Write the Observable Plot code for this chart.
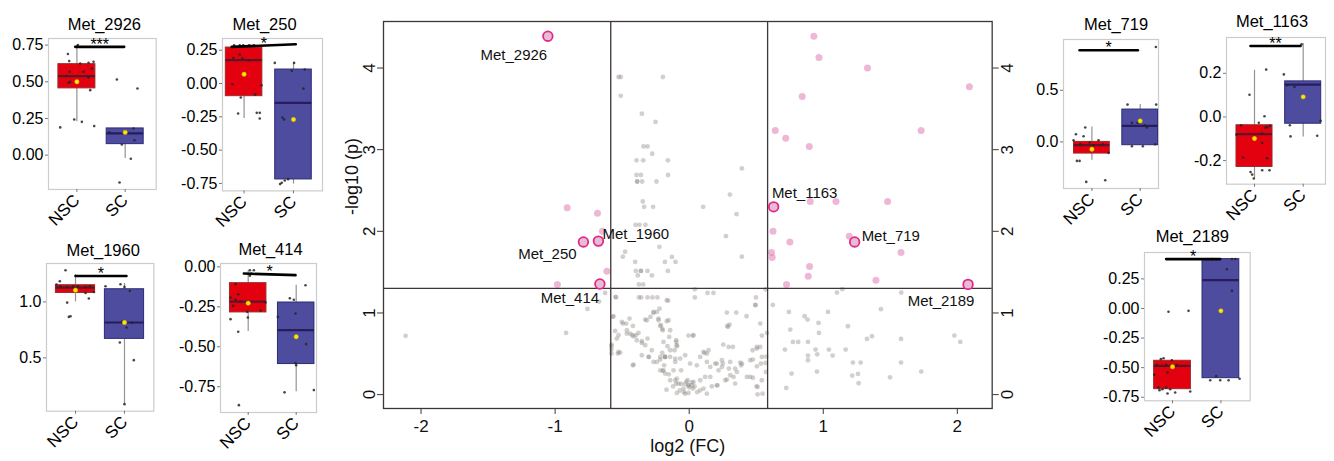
<!DOCTYPE html>
<html><head><meta charset="utf-8">
<script src="https://cdn.jsdelivr.net/npm/d3@7"></script>
<script src="https://cdn.jsdelivr.net/npm/@observablehq/plot@0.6"></script>
<style>
body{margin:0;background:#fff;font-family:"Liberation Sans",Arial,sans-serif;}
#wrap{position:relative;width:1334px;height:461px;overflow:hidden;background:#fff;}
#wrap > svg{position:absolute;}
</style></head><body><div id="wrap"></div>
<script>
// ---------------- DATA ----------------
const groups = ["NSC", "SC"];
const panelNames = ["Met_2926", "Met_250", "Met_1960", "Met_414", "Met_719", "Met_1163", "Met_2189"];
const panelTicks = [
  [0, 0.25, 0.5, 0.75],
  [-0.75, -0.5, -0.25, 0, 0.25],
  [0.5, 1.0],
  [-0.75, -0.5, -0.25, 0],
  [0, 0.5],
  [-0.2, 0, 0.2],
  [-0.75, -0.5, -0.25, 0, 0.25]
];
const nscQ1   = [0.455, -0.095, 1.080, -0.285, -0.113, -0.229, -0.682];
const nscMed  = [0.539,  0.175, 1.128, -0.217, -0.032, -0.079, -0.485];
const nscQ3   = [0.620,  0.270, 1.149, -0.102,  0.000, -0.038, -0.442];
const nscLo   = [0.227, -0.263, 1.000, -0.404, -0.177, -0.282, -0.682];
const nscHi   = [0.750,  0.287, 1.245, -0.025,  0.145,  0.214, -0.442];
const nscMean = [0.500,  0.070, 1.105, -0.227, -0.071, -0.099, -0.493];
const scQ1    = [0.075, -0.720, 0.670, -0.608, -0.032, -0.031, -0.589];
const scMed   = [0.148, -0.145, 0.816, -0.396,  0.155,  0.148,  0.239];
const scQ3    = [0.182,  0.105, 1.113, -0.223,  0.313,  0.163,  0.417];
const scLo    = [-0.023, -0.755, 0.087, -0.781, -0.032, -0.092, -0.589];
const scHi    = [0.182,  0.155, 1.165, -0.115,  0.361,  0.336,  0.417];
const scMean  = [0.155, -0.270, 0.816, -0.437,  0.203,  0.092, -0.020];
const sigStars = ["***", "*", "*", "*", "*", "**", "*"];
const sigX1 = [0.966, 0.75, 1.0, 0.91, 0.745, 0.918, 0.869];
const sigX2 = [1.979, 2.046, 2.04, 1.986, 1.952, 1.945, 1.986];
const sigY1 = [0.738, 0.275, 1.232, -0.042, 0.887, 0.325, 0.417];
const sigY2 = [0.738, 0.295, 1.232, -0.052, 0.887, 0.325, 0.417];

const pts2926 = [["NSC",0.814,0.689],["NSC",0.841,0.641],["NSC",1.241,0.630],["NSC",1.345,0.636],["NSC",0.848,0.568],["NSC",1.069,0.625],["NSC",1.138,0.568],["NSC",1.310,0.590],["NSC",0.779,0.539],["NSC",0.862,0.500],["NSC",0.828,0.493],["NSC",1.241,0.530],["NSC",1.276,0.443],["NSC",1.021,0.750],["NSC",0.945,0.243],["NSC",1.103,0.227],["NSC",1.359,0.198],["NSC",0.655,0.189],
  ["SC",1.828,0.516],["SC",2.255,0.454],["SC",1.669,0.155],["SC",2.172,0.182],["SC",2.193,0.102],["SC",1.931,0.073],["SC",2.117,-0.025],["SC",1.883,-0.186]];
const pts250 = [["NSC",0.798,0.287],["NSC",0.912,0.287],["NSC",0.980,0.287],["NSC",1.101,0.287],["NSC",1.202,0.287],["NSC",0.912,0.217],["NSC",0.784,0.192],["NSC",0.966,0.187],["NSC",1.101,0.175],["NSC",0.764,-0.005],["NSC",1.351,-0.013],["NSC",1.223,-0.083],["NSC",0.933,-0.105],["NSC",0.879,-0.225],["NSC",1.256,-0.220],["NSC",1.317,-0.220],["NSC",1.317,-0.263],
  ["SC",1.621,0.155],["SC",2.012,0.155],["SC",1.965,0.095],["SC",2.228,0.105],["SC",2.201,-0.038],["SC",1.776,-0.255],["SC",1.810,-0.270],["SC",1.729,-0.755],["SC",1.762,-0.745],["SC",1.823,-0.728],["SC",1.891,-0.718]];
const pts1960 = [["NSC",0.796,1.283],["NSC",0.680,1.185],["NSC",0.612,1.155],["NSC",0.694,1.140],["NSC",0.830,1.134],["NSC",0.952,1.140],["NSC",1.048,1.140],["NSC",1.204,1.134],["NSC",1.293,1.140],["NSC",1.374,1.089],["NSC",1.204,1.080],["NSC",1.272,1.030],["NSC",0.830,0.994],["NSC",0.898,0.872],["NSC",0.864,0.866],
  ["SC",1.612,1.140],["SC",1.918,1.158],["SC",2.000,1.134],["SC",2.109,1.098],["SC",1.952,0.822],["SC",2.041,0.771],["SC",2.156,0.813],["SC",1.905,0.637],["SC",2.190,0.480],["SC",2.000,0.087]];
const pts414 = [["NSC",1.035,-0.021],["NSC",1.118,-0.021],["NSC",1.063,-0.042],["NSC",1.035,-0.056],["NSC",0.736,-0.108],["NSC",0.792,-0.171],["NSC",0.632,-0.192],["NSC",0.736,-0.206],["NSC",0.840,-0.217],["NSC",0.688,-0.244],["NSC",1.014,-0.233],["NSC",1.257,-0.275],["NSC",1.361,-0.223],["NSC",0.979,-0.281],["NSC",0.993,-0.317],["NSC",0.632,-0.327],["NSC",0.792,-0.406],["NSC",0.806,-0.865],
  ["SC",2.194,-0.115],["SC",1.868,-0.196],["SC",1.951,-0.206],["SC",1.618,-0.313],["SC",1.986,-0.292],["SC",2.208,-0.483],["SC",1.986,-0.602],["SC",2.000,-0.615],["SC",1.757,-0.785],["SC",2.368,-0.771]];
const pts719 = [["NSC",0.669,0.074],["NSC",0.862,0.139],["NSC",0.828,0.055],["NSC",0.759,-0.023],["NSC",0.952,-0.006],["NSC",1.138,0.016],["NSC",1.034,-0.032],["NSC",1.228,-0.023],["NSC",1.345,-0.106],["NSC",0.745,-0.184],["NSC",0.690,-0.184],["NSC",0.883,-0.387],["NSC",1.276,-0.371],["NSC",0.621,0.016],
  ["SC",1.738,0.361],["SC",2.331,0.361],["SC",1.828,0.184],["SC",1.945,0.184],["SC",2.103,0.161],["SC",2.138,0.139],["SC",1.828,-0.042],["SC",2.055,-0.042],["SC",2.310,-0.023],["SC",2.324,0.919]];
const pts1163 = [["NSC",0.897,0.102],["NSC",1.240,0.217],["NSC",1.205,0.003],["NSC",1.089,-0.027],["NSC",1.260,-0.046],["NSC",1.315,-0.041],["NSC",1.226,-0.049],["NSC",0.726,-0.038],["NSC",1.158,-0.076],["NSC",0.630,-0.081],["NSC",1.158,-0.119],["NSC",0.767,-0.186],["NSC",1.260,-0.189],["NSC",0.918,-0.252],["NSC",0.952,-0.264],["NSC",1.158,-0.244],["NSC",1.308,-0.244],["NSC",0.986,-0.282],
  ["SC",1.603,0.195],["SC",1.671,0.145],["SC",1.822,0.137],["SC",1.966,0.333],["SC",1.726,-0.038],["SC",1.740,-0.089],["SC",2.288,-0.086],["SC",2.356,-0.018]];
const pts2189 = [["NSC",0.621,-0.561],["NSC",0.676,-0.479],["NSC",0.759,-0.428],["NSC",0.814,-0.420],["NSC",0.869,-0.476],["NSC",0.986,-0.437],["NSC",1.090,-0.479],["NSC",0.897,-0.541],["NSC",0.710,-0.668],["NSC",0.793,-0.682],["NSC",0.869,-0.668],["NSC",0.952,-0.682],["NSC",0.897,-0.718],["NSC",1.055,-0.710],["NSC",1.366,-0.701],["NSC",0.731,-0.690],["NSC",0.917,-0.028],["NSC",1.331,-0.020],
  ["SC",1.814,0.417],["SC",2.228,0.417],["SC",2.297,0.417],["SC",2.124,0.332],["SC",2.228,0.149],["SC",1.903,-0.572],["SC",1.779,-0.606],["SC",1.986,-0.606],["SC",2.159,-0.606],["SC",2.386,-0.594]];
const panelPoints = [pts2926, pts250, pts1960, pts414, pts719, pts1163, pts2189];

// volcano
const fcCut = 0.585, pCut = 1.30;
const volXTicks = [-2, -1, 0, 1, 2];
const volYTicks = [0, 1, 2, 3, 4];
const greyPts = [
 [-0.527,3.89],[-0.51,3.89],[-0.196,3.89],[-0.51,3.66],[-0.353,3.44],[-0.251,3.34],[-0.341,3.04],[-0.311,3.04],[-0.276,2.95],[-0.393,2.87],[-0.343,2.87],[-0.159,2.87],[-0.393,2.69],[-0.36,2.69],[-0.157,2.69],[-0.388,2.61],[-0.388,2.61],[-0.351,2.61],[-0.244,2.61],[0.393,2.77],[0.304,2.45],[-0.346,2.365],[-0.336,2.30],[-0.269,2.30],[0.104,2.30],[0.353,2.21],[-0.4,2.08],[-0.37,2.08],[-0.326,2.08],[0.274,1.94],[0.393,1.69],[-0.478,1.75],[-0.495,1.69],[-0.222,1.81],[-0.181,1.625],[-0.102,1.625],[-0.403,1.625],[-0.398,1.515],[-0.36,1.515],[-0.36,1.515],[-0.311,1.515],[-0.278,1.46],[-0.159,1.515],[-0.383,1.46],[-0.375,1.35],[-0.343,1.35],[0.042,1.29],[0.137,1.245],[0.181,1.245],[0.042,1.19],[0.498,1.19],[0.57,1.29],
 [-0.545,1.19],[-0.375,1.19],[-0.358,1.19],[-0.311,1.19],[-0.274,1.19],[-0.237,1.19],[-0.157,1.15],
 [-0.570,0.952],[-0.495,0.870],[-0.445,0.931],[-0.420,0.841],[-0.527,0.727],[-0.552,0.780],[-0.465,0.748],[-0.425,0.727],[-0.398,0.727],[-0.353,0.654],[-0.311,0.686],[-0.266,1.013],[-0.221,1.054],[-0.289,0.952],[-0.316,0.911],[-0.216,0.841],[-0.201,0.805],[-0.229,0.931],[-0.167,0.899],[-0.142,0.788],[-0.149,0.707],[-0.192,0.645],[-0.162,0.592],[-0.142,0.543],[-0.097,0.645],[-0.092,0.592],[-0.109,0.543],[-0.005,0.723],[0.027,0.723],[0.114,0.511],[0.144,0.543],[0.254,0.613],[0.294,0.584],[0.326,0.584],[0.284,0.841],[0.281,1.005],[0.351,1.005],[0.428,0.960],[0.495,1.095],[0.530,0.870],[0.542,0.723],[0.505,0.584],[0.473,0.543],[0.575,0.466],[0.535,0.380],[0.505,0.347],[0.542,0.176],[0.502,0.102],[0.547,0.012],[-0.515,0.515],[-0.415,0.368],[-0.301,0.462],[-0.241,0.400],[-0.216,0.462],[-0.201,0.511],[-0.182,0.462],[-0.142,0.462],[-0.104,0.400],[-0.067,0.441],[-0.030,0.482],[0.007,0.380],[0.057,0.359],[0.132,0.400],[0.132,0.502],[0.157,0.339],[0.206,0.380],[0.251,0.380],[0.296,0.319],[0.343,0.319],[0.393,0.380],[0.455,0.421],[-0.197,0.290],[-0.152,0.249],[-0.092,0.196],[-0.060,0.298],[-0.012,0.176],[0.020,0.151],[-0.097,0.135],[-0.042,0.074],[-0.005,0.114],[0.027,0.074],[-0.005,0.020],[-0.092,0.020],[0.082,0.176],[0.107,0.074],[0.157,0.217],[0.206,0.114],[0.269,0.176],[0.306,0.237],[0.356,0.278],[0.430,0.217],[-0.216,0.298],[-0.142,0.176],[-0.169,0.061],[0.132,0.012],[-0.58,0.592],[-0.58,0.502],[-0.532,0.502],
 [-0.06,0.13],[-0.03,0.13],[0.0,0.09],[-0.07,0.05],[0.04,0.1],[-0.12,0.1],[0.06,0.03],[-0.04,0.03],[-0.02,0.16],
 [-0.550,1.197],[-0.565,0.960],[-0.502,0.891],[-0.465,0.788],[-0.540,0.686],[-0.58,0.613],[-0.58,0.551],[-0.527,0.523],[-0.440,0.748],[-0.470,0.870],[-0.415,0.715],[-0.391,0.666],[-0.378,0.756],[-0.353,0.633],[-0.328,0.919],[-0.266,1.001],[-0.241,1.013],[-0.229,0.911],[-0.211,0.850],[-0.197,0.788],[-0.328,0.605],[-0.279,0.543],[-0.353,0.482],[-0.216,0.429],[-0.179,0.462],[-0.266,0.400],[-0.420,0.359],[-0.303,0.462],[-0.192,0.298],[-0.179,0.257],
 [-0.759,1.05],[-0.672,1.14],[-0.627,1.245],[-0.918,0.755],[-2.115,0.72],
 [0.624,1.099],[0.744,1.013],[0.861,0.960],[0.883,0.919],[0.965,0.878],[1.035,1.013],[0.754,0.797],[0.774,0.645],[0.813,0.645],[0.886,0.645],[0.968,0.756],[1.184,0.837],[0.714,0.551],[0.943,0.551],[0.955,0.494],[0.886,0.478],[0.886,0.421],[1.042,0.551],[1.070,0.478],[1.167,0.551],[1.221,0.392],[1.279,0.392],[1.326,0.682],[1.363,0.715],[1.430,1.046],[1.582,1.250],[1.142,1.291],[1.102,1.250],[1.580,0.682],[1.580,0.392],[1.731,0.282],[1.978,0.723],[2.022,0.645],[0.764,0.257],[0.953,0.282],[1.216,0.233],[1.259,0.253],[1.264,0.139],[1.498,0.212],[0.724,0.082],
 [0.493,1.099],[0.580,0.756],[0.530,0.584],[0.505,0.564],[0.542,0.462],[0.475,0.208],[0.510,0.004],[0.570,0.388],[0.572,0.278],[0.301,0.858],[0.289,0.829],[0.381,0.392],[0.388,0.359],[0.107,0.523],[0.082,0.462],[0.194,0.380],[0.244,0.339],[0.306,0.400],[0.244,0.421],[0.219,0.298],[0.119,0.217],[0.169,0.102],[0.211,0.114],[0.281,0.184],[0.331,0.217],[0.343,0.135],[0.455,0.217],[0.475,0.429],[0.510,0.094],
 [-0.129,1.687],[-0.167,1.156],[-0.154,0.911],[-0.097,0.666],[-0.092,0.605],[-0.179,0.462],[-0.104,0.441],[-0.187,0.359],[-0.117,0.298],[-0.104,0.176],[-0.080,0.135],[-0.030,0.012],[-0.005,0.114],[0.020,0.114],[0.032,0.155],[0.082,0.053],[0.032,0.727]
];
const sigPts = [
 [-0.91,2.29],[-0.684,2.22],[-0.647,2.0],[-0.614,1.51],[-0.983,1.35],
 [0.93,4.39],[0.968,4.13],[1.33,4.0],[2.09,3.77],[0.843,3.65],[0.642,3.235],[0.72,3.14],[0.896,3.04],[1.73,3.235],[0.903,2.365],[1.095,2.365],[1.48,2.365],[0.625,2.0],[0.751,1.87],[1.194,1.94],[1.58,1.74],[0.614,1.74],[0.619,1.68],[0.898,1.57],[0.888,1.45],[1.393,1.40],[0.726,1.35]
];
const labNames = ["Met_2926", "Met_250", "Met_1960", "Met_414", "Met_1163", "Met_719", "Met_2189"];
const labFC = [-1.054, -0.789, -0.677, -0.666, 0.63, 1.234, 2.08];
const labP  = [4.39, 1.87, 1.88, 1.355, 2.30, 1.87, 1.35];

// ---------------- DRAW ----------------
const FONT = '"Liberation Sans", Arial, sans-serif';
const wrap = document.getElementById("wrap");

// Volcano
const V = {fl: 383, fr: 991.7, ft: 21, fb: 408};
const vmL = 60, vmR = 45, vmT = 21, vmB = 53;
const labelOffsets = {
  Met_2926: [-34, 19, "middle"], Met_250: [-36, 12, "middle"], Met_1960: [4, -7, "start"],
  Met_414: [-30, 14, "middle"], Met_1163: [31, -14, "middle"], Met_719: [7, -6, "start"],
  Met_2189: [-27, 17, "middle"]
};
const labData = labNames.map((n, k) => ({n, fc: labFC[k], p: labP[k]}));
const lineCol = "#3e3636";
const vol = Plot.plot({
  width: V.fr - V.fl + vmL + vmR,
  height: V.fb - V.ft + vmT + vmB,
  marginLeft: vmL, marginRight: vmR, marginTop: vmT, marginBottom: vmB,
  style: {fontFamily: FONT, fontSize: "17px", color: "#111", background: "transparent", overflow: "visible"},
  x: {domain: [-2.28, 2.26]},
  y: {domain: [-0.17, 4.57]},
  marks: [
    Plot.dot(greyPts, {x: d => d[0], y: d => d[1], r: 2.4, fill: "#8f8a85", fillOpacity: 0.4}),
    Plot.dot(sigPts, {x: d => d[0], y: d => d[1], r: 3.5, fill: "#e07bb4", fillOpacity: 0.55}),
    Plot.ruleX([-fcCut, fcCut], {stroke: lineCol, strokeWidth: 1.3}),
    Plot.ruleY([pCut], {stroke: lineCol, strokeWidth: 1.3}),
    Plot.dot(labData, {x: "fc", y: "p", r: 4.8, fill: "#e6bdd2", stroke: "#e3288a", strokeWidth: 1.8}),
    ...labData.map(d => {
      const [dx, dy, ta] = labelOffsets[d.n];
      return Plot.text([d], {x: "fc", y: "p", text: "n", dx, dy, textAnchor: ta, fontSize: 15, fill: "#111"});
    }),
    Plot.frame({stroke: lineCol, strokeWidth: 1.3}),
    Plot.axisX({ticks: volXTicks, tickFormat: d => String(d), tickSize: 6, tickPadding: 5, fontSize: 17, stroke: lineCol, fill: "#111", label: null}),
    Plot.axisY({anchor: "left", ticks: volYTicks, tickFormat: d => String(d), tickRotate: -90, tickSize: 6, fontSize: 17, stroke: lineCol, fill: "#111", label: null}),
    Plot.axisY({anchor: "right", ticks: volYTicks, tickFormat: d => String(d), tickRotate: -90, lineAnchor: "top", tickSize: 6, fontSize: 17, stroke: lineCol, fill: "#111", label: null}),
    Plot.text(["log2 (FC)"], {text: d => d, frameAnchor: "bottom", lineAnchor: "middle", dy: 38, fontSize: 18, fill: "#111"}),
    Plot.text(["-log10 (p)"], {text: d => d, frameAnchor: "left", lineAnchor: "middle", dx: -31, rotate: -90, fontSize: 18, fill: "#111"})
  ]
});
vol.style.left = (V.fl - vmL) + "px";
vol.style.top = (V.ft - vmT) + "px";
wrap.appendChild(vol);

// Box panels
const layout = [
  {fl: 48.3, fr: 156, ft: 38.3, fb: 189.3, xd: [0.412, 2.642], yd: [-0.234, 0.795], hw: 0.383, tdx: 2, tdy: -13.3, dec: 2},
  {fl: 221.7, fr: 321.7, ft: 38.3, fb: 190.7, xd: [0.563, 2.587], yd: [-0.806, 0.338], hw: 0.37, tdx: -8, tdy: -13.8, dec: 2},
  {fl: 46, fr: 153.3, ft: 263.3, fb: 411, xd: [0.408, 2.598], yd: [0.024, 1.343], hw: 0.40, tdx: 3, tdy: -12.6, dec: 1},
  {fl: 220, fr: 316, ft: 262.7, fb: 411.7, xd: [0.423, 2.423], yd: [-0.911, 0.021], hw: 0.38, tdx: 2, tdy: -13.5, dec: 2},
  {fl: 1063.3, fr: 1158.3, ft: 39.3, fb: 188.3, xd: [0.412, 2.379], yd: [-0.451, 0.991], hw: 0.37, tdx: 5, tdy: -15, dec: 1},
  {fl: 1226, fr: 1325, ft: 37.3, fb: 184, xd: [0.425, 2.458], yd: [-0.308, 0.364], hw: 0.37, tdx: -4, tdy: -15.5, dec: 1},
  {fl: 1144.3, fr: 1250, ft: 251.7, fb: 400, xd: [0.421, 2.605], yd: [-0.78, 0.473], hw: 0.38, tdx: -5, tdy: -16, dec: 2}
];
const fillCol = {NSC: "#e3000f", SC: "#4d4c9f"};
const strokeCol = {NSC: "#9c2a2a", SC: "#2c2b78"};
const medCol = {NSC: "#5c1628", SC: "#271c5c"};

function boxPanel(i) {
  const L = layout[i];
  const mL = 52, mR = 10, mT = 42, mB = 50;
  const stats = groups.map((g, k) => ({
    g, x: k + 1,
    q1: k ? scQ1[i] : nscQ1[i], med: k ? scMed[i] : nscMed[i], q3: k ? scQ3[i] : nscQ3[i],
    lo: k ? scLo[i] : nscLo[i], hi: k ? scHi[i] : nscHi[i], mean: k ? scMean[i] : nscMean[i]
  }));
  const hw = L.hw;
  const sig = [{x: sigX1[i], y: sigY1[i]}, {x: sigX2[i], y: sigY2[i]}];
  const chart = Plot.plot({
    width: L.fr - L.fl + mL + mR,
    height: L.fb - L.ft + mT + mB,
    marginLeft: mL, marginRight: mR, marginTop: mT, marginBottom: mB,
    style: {fontFamily: FONT, fontSize: "16px", color: "#000", background: "transparent", overflow: "visible"},
    x: {domain: L.xd},
    y: {domain: L.yd},
    marks: [
      Plot.frame({stroke: "#cccccc", strokeWidth: 1.2}),
      Plot.ruleX(stats, {x: "x", y1: "lo", y2: "hi", stroke: "#9a9090", strokeWidth: 1.2}),
      Plot.rect(stats, {x1: d => d.x - hw, x2: d => d.x + hw, y1: "q1", y2: "q3",
        fill: d => fillCol[d.g], stroke: d => strokeCol[d.g], strokeWidth: 1}),
      Plot.ruleY(stats, {x1: d => d.x - hw, x2: d => d.x + hw, y: "med", stroke: d => medCol[d.g], strokeWidth: 2.2}),
      Plot.dot(panelPoints[i], {x: d => d[1], y: d => d[2], r: 1.3, fill: "#262626", fillOpacity: 0.85}),
      Plot.dot(stats, {x: "x", y: "mean", r: 2.2, fill: "#ffe600", stroke: "#c9b400", strokeWidth: 0.5}),
      Plot.line(sig, {x: "x", y: "y", stroke: "#000", strokeWidth: 2.6}),
      Plot.text([sigStars[i]], {text: d => d, x: () => (sigX1[i] + sigX2[i]) / 2, y: () => (sigY1[i] + sigY2[i]) / 2,
        lineAnchor: "bottom", dy: 3, fontSize: 16, fill: "#000"}),
      Plot.text([panelNames[i]], {text: d => d, frameAnchor: "top", lineAnchor: "middle", dx: L.tdx, dy: L.tdy, fontSize: 16.5, fill: "#000"}),
      Plot.axisX({ticks: [1, 2], tickFormat: d => groups[d - 1], tickRotate: -45, tickSize: 3, tickPadding: 5,
        fontSize: 17, stroke: "#777", fill: "#000", label: null}),
      Plot.axisY({ticks: panelTicks[i], tickFormat: d => d.toFixed(L.dec), tickSize: 3, tickPadding: 2,
        fontSize: 16, stroke: "#777", fill: "#000", label: null})
    ]
  });
  chart.style.left = (L.fl - mL) + "px";
  chart.style.top = (L.ft - mT) + "px";
  wrap.appendChild(chart);
}
for (let i = 0; i < panelNames.length; i++) boxPanel(i);
</script>
</body></html>
